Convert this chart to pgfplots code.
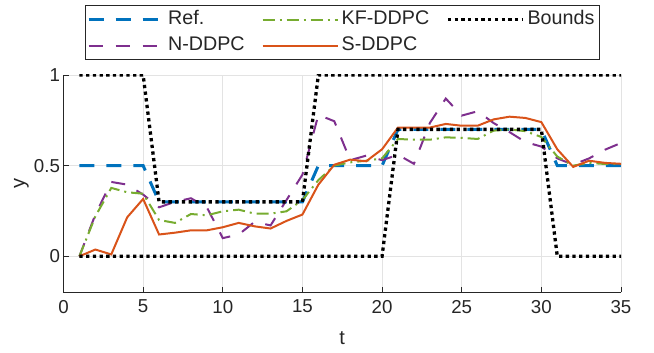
\documentclass[border=0pt]{standalone}
\usepackage{fontspec}
\setmainfont{Liberation Sans}
\usepackage{pgfplots}
\pgfplotsset{compat=1.18}
\definecolor{cref}{rgb}{0,0.447,0.741}
\definecolor{cn}{rgb}{0.494,0.184,0.556}
\definecolor{ckf}{rgb}{0.466,0.674,0.188}
\definecolor{cs}{rgb}{0.85,0.325,0.098}
\definecolor{axc}{rgb}{0.15,0.15,0.15}
\pgfplotstableread{
t ref up lo nd kf sd
1 0.5 1 0 0 0 0
2 0.5 1 0 0.23 0.22 0.037
3 0.5 1 0 0.41 0.377 0.01
4 0.5 1 0 0.395 0.353 0.215
5 0.5 1 0 0.34 0.345 0.316
6 0.3 0.3 0 0.27 0.2 0.12
7 0.3 0.3 0 0.30 0.184 0.13
8 0.3 0.3 0 0.32 0.233 0.143
9 0.3 0.3 0 0.27 0.226 0.143
10 0.3 0.3 0 0.10 0.248 0.16
11 0.3 0.3 0 0.12 0.257 0.184
12 0.3 0.3 0 0.19 0.235 0.165
13 0.3 0.3 0 0.17 0.235 0.153
14 0.3 0.3 0 0.31 0.248 0.195
15 0.3 0.3 0 0.45 0.31 0.23
16 0.5 1 0 0.78 0.42 0.395
17 0.5 1 0 0.745 0.5 0.505
18 0.5 1 0 0.53 0.518 0.533
19 0.5 1 0 0.555 0.527 0.524
20 0.5 1 0 0.53 0.54 0.59
21 0.7 1 0.7 0.56 0.647 0.71
22 0.7 1 0.7 0.51 0.643 0.71
23 0.7 1 0.7 0.735 0.643 0.71
24 0.7 1 0.7 0.87 0.656 0.73
25 0.7 1 0.7 0.776 0.653 0.72
26 0.7 1 0.7 0.80 0.647 0.72
27 0.7 1 0.7 0.735 0.693 0.755
28 0.7 1 0.7 0.685 0.70 0.77
29 0.7 1 0.7 0.63 0.69 0.763
30 0.7 1 0.7 0.605 0.658 0.74
31 0.5 1 0 0.54 0.55 0.59
32 0.5 1 0 0.505 0.50 0.493
33 0.5 1 0 0.54 0.515 0.527
34 0.5 1 0 0.588 0.509 0.515
35 0.5 1 0 0.625 0.51 0.51
}\data
\begin{document}
\begin{tikzpicture}
\useasboundingbox (-63.5pt,-60.5pt) rectangle (590.5pt,292.5pt);
\begin{axis}[
  at={(0pt,0pt)}, anchor=south west,
  scale only axis, width=557.5pt, height=217.5pt,
  xmin=0, xmax=35, ymin=-0.2, ymax=1,
  xtick={0,5,...,35}, ytick={0,0.5,1},
  axis x line*=bottom, axis y line*=left,
  axis line style={axc, line width=0.8pt, -},
  tick align=inside, major tick length=5.5pt,
  tick style={axc, line width=0.8pt},
  grid=major, grid style={line width=0.8pt, color=black!11},
  /pgf/number format/assume math mode=true,
  tick label style={font=\fontsize{18.7}{20}\selectfont, text=axc},
  xticklabel style={yshift=-4pt},
  label style={font=\fontsize{20}{22}\selectfont, text=axc},
  xlabel={t}, ylabel={y},
  xlabel style={at={(axis description cs:0.5,0)}, anchor=center, yshift=-45.5pt},
  ylabel style={at={(axis description cs:-0.0753,0.5)}, anchor=center, rotate=0},
  legend columns=3,
  legend cell align=left,
  legend image code/.code={\draw[#1] (0pt,0pt) -- (75pt,0pt);},
  legend style={at={(0.5,1)}, anchor=south, yshift=15pt, draw=axc, line width=0.8pt,
    font=\fontsize{19.7}{22}\selectfont, text=axc, inner xsep=2pt, inner ysep=1pt,
    nodes={inner xsep=3pt, inner ysep=4pt, text height=14pt, text depth=4pt},
    /tikz/every even column/.append style={column sep=14pt}},
]
\addlegendimage{cref, line width=3pt, dash pattern=on 15pt off 12pt}
\addlegendentry{Ref.}
\addlegendimage{ckf, line width=2pt, dash pattern=on 12pt off 5pt on 2pt off 5pt}
\addlegendentry{KF-DDPC}
\addlegendimage{black, line width=3.3pt, dash pattern=on 3.3pt off 3.4pt}
\addlegendentry{Bounds}
\addlegendimage{cn, line width=2pt, dash pattern=on 14pt off 13pt}
\addlegendentry{N-DDPC}
\addlegendimage{cs, line width=2pt}
\addlegendentry{S-DDPC}

\addplot[cref, line width=3pt, dash pattern=on 15pt off 12pt, forget plot] table[x=t, y=ref] {\data};
\addplot[cn, line width=2pt, dash pattern=on 14pt off 13pt, forget plot] table[x=t, y=nd] {\data};
\addplot[ckf, line width=2pt, dash pattern=on 12pt off 5pt on 2pt off 5pt, forget plot] table[x=t, y=kf] {\data};
\addplot[cs, line width=2pt, forget plot] table[x=t, y=sd] {\data};
\addplot[black, line width=3.3pt, dash pattern=on 3.3pt off 3.4pt, forget plot] table[x=t, y=up] {\data};
\addplot[black, line width=3.3pt, dash pattern=on 3.3pt off 3.4pt, forget plot] table[x=t, y=lo] {\data};
\end{axis}
\end{tikzpicture}
\end{document}
